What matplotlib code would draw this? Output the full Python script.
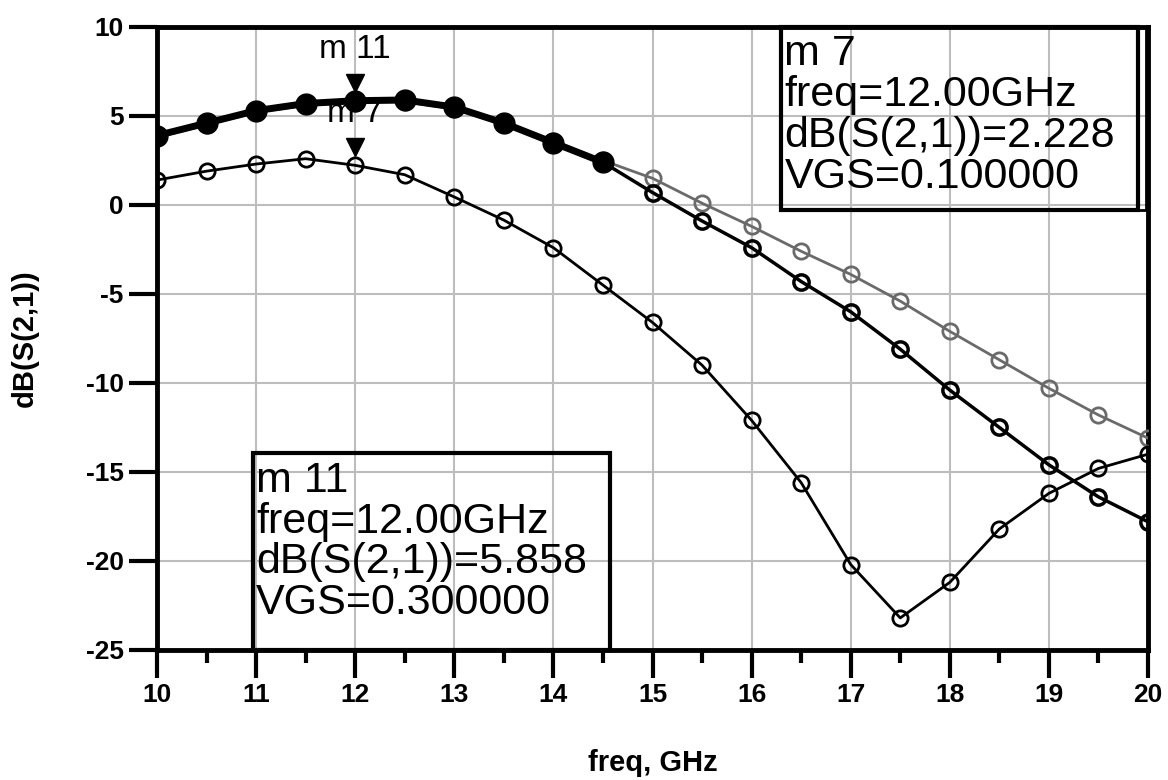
import matplotlib.pyplot as plt
import matplotlib.transforms as mtransforms
from matplotlib.patches import Rectangle

plt.rcParams['font.family'] = ['Liberation Sans', 'DejaVu Sans']
plt.rcParams['axes.unicode_minus'] = False

# frequency points, GHz
freq = [10, 10.5, 11, 11.5, 12, 12.5, 13, 13.5, 14, 14.5, 15,
        15.5, 16, 16.5, 17, 17.5, 18, 18.5, 19, 19.5, 20]

# dB(S(2,1)) for each VGS sweep
s21_vgs03 = [3.9, 4.6, 5.3, 5.7, 5.858, 5.9, 5.5, 4.6, 3.5, 2.4, 0.7,
             -0.9, -2.4, -4.3, -6.0, -8.1, -10.4, -12.5, -14.6, -16.4, -17.8]
s21_vgs02 = [3.8, 4.5, 5.2, 5.6, 5.75, 5.8, 5.4, 4.6, 3.6, 2.5, 1.5,
             0.1, -1.2, -2.6, -3.9, -5.4, -7.1, -8.7, -10.3, -11.8, -13.1]
s21_vgs01 = [1.4, 1.9, 2.3, 2.6, 2.228, 1.7, 0.45, -0.85, -2.4, -4.5, -6.6,
             -9.0, -12.1, -15.6, -20.2, -23.2, -21.2, -18.2, -16.2, -14.8, -14.0]

x_ticks = [10, 11, 12, 13, 14, 15, 16, 17, 18, 19, 20]
y_ticks = [-25, -20, -15, -10, -5, 0, 5, 10]

fig = plt.figure(figsize=(11.68, 7.8), dpi=100)
ax = fig.add_axes([0.1344, 0.1667, 0.8485, 0.7987])

# curves
ax.plot(freq, s21_vgs02, color='#6a6a6a', lw=2, marker='o', ms=11,
        mfc='none', mec='#6a6a6a', mew=2, zorder=3)
ax.plot(freq, s21_vgs01, color='black', lw=2, marker='o', ms=11,
        mfc='none', mec='black', mew=2, zorder=3)
ax.plot(freq, s21_vgs03, color='black', lw=2.5, marker='o', ms=11,
        mfc='none', mec='black', mew=2.5, zorder=4)
# overlapping sweeps make the low-frequency part look solid
ax.plot(freq[:10], s21_vgs03[:10], color='black', lw=5, marker='o', ms=15,
        mfc='black', mec='black', zorder=4)

# markers m11 and m7
i12 = freq.index(12)
for name, yv in [('m 11', s21_vgs03[i12]), ('m 7', s21_vgs01[i12])]:
    tri = mtransforms.offset_copy(ax.transData, fig=fig, x=0, y=13, units='points')
    ax.plot([freq[i12]], [yv], marker='v', ms=13, color='black',
            transform=tri, zorder=6)
    ax.annotate(name, (freq[i12], yv), xytext=(0, 37), textcoords='offset points',
                ha='center', va='center', fontsize=24, zorder=6)

# marker readout boxes
boxes = [
    ((0.097, 0.0), 0.36, 0.316,
     'm 11\nfreq=12.00GHz\ndB(S(2,1))=5.858\nVGS=0.300000'),
    ((0.63, 0.706), 0.36, 0.294,
     'm 7\nfreq=12.00GHz\ndB(S(2,1))=2.228\nVGS=0.100000'),
]
for (bx, by), bw, bh, txt in boxes:
    ax.add_patch(Rectangle((bx, by), bw, bh, transform=ax.transAxes,
                           fill=False, ec='black', lw=3, zorder=5, clip_on=False))
    ax.text(bx + 0.003, by + bh - 0.012, txt, transform=ax.transAxes,
            ha='left', va='top', fontsize=31, linespacing=1.03, zorder=6)
# second edge on the right side of the m7 box
ax.add_patch(Rectangle((0.63, 0.706), 0.368, 0.294, transform=ax.transAxes,
                       fill=False, ec='black', lw=2, zorder=5, clip_on=False))

ax.set_xlim(10, 20)
ax.set_ylim(-25, 10)
ax.set_xticks(x_ticks)
ax.set_xticks([v + 0.5 for v in x_ticks[:-1]], minor=True)
ax.set_yticks(y_ticks)
ax.grid(True, which='major', color='#bdbdbd', lw=1.5)
ax.set_axisbelow(True)

for sp in ax.spines.values():
    sp.set_linewidth(3.5)

ax.tick_params(axis='both', which='major', direction='out', length=20, width=3,
               labelsize=19, pad=4)
ax.tick_params(axis='x', which='minor', direction='out', length=9, width=3)
for lab in ax.get_xticklabels() + ax.get_yticklabels():
    lab.set_fontweight('bold')

ax.set_xlabel('freq, GHz', fontsize=21, fontweight='bold', labelpad=30)
ax.set_ylabel('dB(S(2,1))', fontsize=21, fontweight='bold', labelpad=34)

fig.savefig('out.png', dpi=100)
